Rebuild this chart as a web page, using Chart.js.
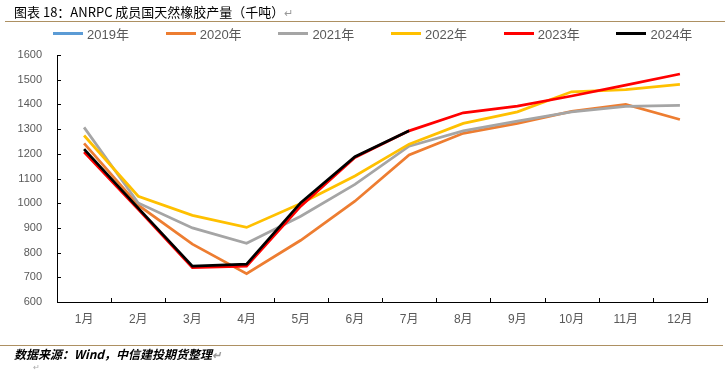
<!DOCTYPE html>
<html>
<head>
<meta charset="utf-8">
<script src="https://cdn.jsdelivr.net/npm/chart.js@4/dist/chart.umd.min.js"></script>
<style>
  html, body { margin: 0; padding: 0; background: #fff; }
  body { width: 725px; height: 372px; position: relative; overflow: hidden;
         font-family: "Liberation Sans", "Noto Sans CJK SC", sans-serif; }
  #rubberChart { position: absolute; left: 0; top: 0; }
  .title { position: absolute; left: 14px; top: 3px; font-size: 13px; color: #000;
           font-family: "Noto Sans CJK SC", sans-serif; white-space: nowrap; line-height: 18px; }
  .mark { color: #999; font-size: 11px; }
  .rule { position: absolute; height: 1px; background: #ad9062; }
  #legend { position: absolute; left: 53px; top: 24px; height: 18px; display: flex; }
  .item { width: 112.7px; display: flex; align-items: center; font-size: 13px; color: #595959; }
  .item i { display: inline-block; width: 30px; height: 3px; margin-right: 4px; }
  .source { position: absolute; left: 14px; top: 346px; font-size: 12px; font-weight: bold;
            font-style: italic; color: #000; font-family: "Noto Sans CJK SC", sans-serif;
            line-height: 16px; white-space: nowrap; }
  .tail { position: absolute; left: 33px; top: 363px; font-size: 8px; line-height: 9px; color: #aaa; }
</style>
</head>
<body>
<canvas id="rubberChart" width="725" height="372"></canvas>
<div class="title">图表 18：ANRPC 成员国天然橡胶产量（千吨）<span class="mark">↵</span></div>
<div class="rule" style="left:5px; top:21px; width:720px;"></div>
<div id="legend"></div>
<div class="rule" style="left:0; top:345px; width:723px;"></div>
<div class="source">数据来源：Wind，中信建投期货整理<span class="mark">↵</span></div>
<div class="tail">↵</div>
<script>
const months = ['1月', '2月', '3月', '4月', '5月', '6月', '7月', '8月', '9月', '10月', '11月', '12月'];
const seriesNames = ['2019年', '2020年', '2021年', '2022年', '2023年', '2024年'];
const seriesColors = ['#5b9bd5', '#ed7d31', '#a5a5a5', '#ffc000', '#ff0000', '#000000'];

// 2019 is not visible in the picture
const y2019 = [null, null, null, null, null, null, null, null, null, null, null, null];
const y2020 = [1242, 992, 834, 715, 850, 1008, 1195, 1283, 1323, 1372, 1400, 1339];
const y2021 = [1307, 1001, 900, 838, 947, 1076, 1231, 1293, 1332, 1370, 1392, 1396];
const y2022 = [1274, 1028, 951, 902, 999, 1110, 1239, 1323, 1370, 1451, 1460, 1481];
const y2023 = [1207, 975, 739, 745, 988, 1185, 1293, 1366, 1393, 1434, 1478, 1523];
const y2024 = [1219, 980, 745, 753, 1002, 1188, 1293, null, null, null, null, null];

const yTicks = { min: 600, max: 1600, step: 100 };

const allSeries = [y2019, y2020, y2021, y2022, y2023, y2024];

// tick marks point inward, as in the original
const innerTicks = {
    id: 'innerTicks',
    afterDatasetsDraw(chart) {
        const { ctx, scales: { x, y } } = chart;
        ctx.save();
        ctx.strokeStyle = '#000';
        ctx.lineWidth = 1;
        ctx.beginPath();
        y.ticks.forEach((t, i) => {
            const py = Math.round(y.getPixelForTick(i)) + 0.5;
            ctx.moveTo(x.left, py);
            ctx.lineTo(x.left + 4, py);
        });
        for (let i = 0; i <= months.length; i++) {
            const px = Math.round(x.getPixelForValue(i - 0.5)) + 0.5;
            ctx.moveTo(px, y.bottom);
            ctx.lineTo(px, y.bottom - 4);
        }
        ctx.stroke();
        ctx.restore();
    }
};

const ctx = document.getElementById('rubberChart').getContext('2d');
const chart = new Chart(ctx, {
    type: 'line',
    data: {
        labels: months,
        datasets: seriesNames.map((name, i) => ({
            label: name,
            data: allSeries[i],
            borderColor: seriesColors[i],
            backgroundColor: seriesColors[i],
            borderWidth: 2.75,
            pointRadius: 0,
            tension: 0,
            order: seriesNames.length - i,
        }))
    },
    options: {
        responsive: false,
        animation: false,
        layout: { padding: { left: 0, top: 55, right: 18, bottom: 40 } },
        plugins: {
            legend: { display: false },
            tooltip: { enabled: false }
        },
        scales: {
            x: {
                offset: true,
                grid: { display: true, drawOnChartArea: false, drawTicks: false },
                border: { color: '#000', width: 1 },
                ticks: {
                    color: '#595959',
                    padding: 10,
                    maxRotation: 0,
                    autoSkip: false,
                    font: { family: '"Liberation Sans", "Noto Sans CJK SC", sans-serif', size: 12 }
                },
                afterFit(scale) { scale.height = 30; }
            },
            y: {
                min: yTicks.min,
                max: yTicks.max,
                grid: { display: true, drawOnChartArea: false, drawTicks: false },
                border: { color: '#000', width: 1 },
                ticks: {
                    stepSize: yTicks.step,
                    color: '#595959',
                    padding: 15,
                    font: { family: '"Liberation Sans", sans-serif', size: 11 },
                    callback: v => String(v)
                },
                afterFit(scale) { scale.width = 57; }
            }
        }
    },
    plugins: [innerTicks]
});

// html legend, built from the datasets
const legendEl = document.getElementById('legend');
chart.data.datasets.forEach(ds => {
    const item = document.createElement('div');
    item.className = 'item';
    const swatch = document.createElement('i');
    swatch.style.background = ds.borderColor;
    item.appendChild(swatch);
    item.appendChild(document.createTextNode(ds.label));
    legendEl.appendChild(item);
});
</script>
</body>
</html>
